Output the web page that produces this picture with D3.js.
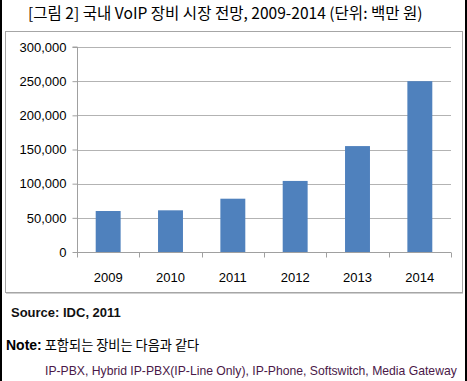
<!DOCTYPE html>
<html><head><meta charset="utf-8">
<script src="https://cdn.jsdelivr.net/npm/d3@7"></script>
<style>
html,body{margin:0;padding:0;background:#fff;}
svg{display:block;}
</style></head>
<body>
<script>
const years = ["2009","2010","2011","2012","2013","2014"];
const values = [60000, 61000, 78000, 104000, 155000, 250000];
const yTicks = [0, 50000, 100000, 150000, 200000, 250000, 300000];
const titleText = "[그림 2] 국내 VoIP 장비 시장 전망, 2009-2014 (단위: 백만 원)";
const sourceText = "Source: IDC, 2011";
const noteLabel = "Note:";
const noteText = " 포함되는 장비는 다음과 같다";
const itemsText = "IP-PBX,  Hybrid IP-PBX(IP-Line Only), IP-Phone, Softswitch,  Media Gateway";

const W = 467, H = 381;
const svg = d3.select("body").append("svg").attr("width", W).attr("height", H);

// outer side borders
svg.append("rect").attr("x",0).attr("y",0).attr("width",2).attr("height",H).attr("fill","#000");
svg.append("rect").attr("x",465).attr("y",0).attr("width",2).attr("height",H).attr("fill","#000");

// title
const title = svg.append("text").attr("x", 28).attr("y", 19)
  .attr("font-family", "'Noto Sans CJK KR', sans-serif")
  .attr("font-size", 16).attr("fill", "#000").text(titleText);
const tw = title.node().getComputedTextLength();
title.attr("font-size", 16 * 395 / tw);

// chart box
svg.append("rect").attr("x", 5.5).attr("y", 31.5).attr("width", 457).attr("height", 261)
  .attr("fill", "#fff").attr("stroke", "#a6a6a6").attr("stroke-width", 1);
svg.append("line").attr("x1", 6).attr("x2", 463).attr("y1", 293.5).attr("y2", 293.5)
  .attr("stroke", "#d0d0d0");

const x0 = 77, x1 = 451, yTop = 47, yBot = 252;
const x = d3.scaleBand().domain(years).range([x0, x1]).paddingInner(0.6).paddingOuter(0.3);
const xb = d3.scaleBand().domain(years).range([x0, x1]);
const y = d3.scaleLinear().domain([0, 300000]).range([yBot, yTop]);

// gridlines
svg.append("g").selectAll("line").data(yTicks.filter(d => d > 0)).join("line")
  .attr("x1", x0).attr("x2", x1)
  .attr("y1", d => Math.round(y(d)) + 0.5).attr("y2", d => Math.round(y(d)) + 0.5)
  .attr("stroke", "#b3b3b3").attr("stroke-width", 1);

// bars
svg.append("g").selectAll("rect").data(years).join("rect")
  .attr("x", d => x(d)).attr("width", x.bandwidth())
  .attr("y", (d, i) => y(values[i])).attr("height", (d, i) => yBot - y(values[i]))
  .attr("fill", "#4f81bd");

// y axis
const yAxis = d3.axisLeft(y).tickValues(yTicks).tickSize(5).tickPadding(6)
  .tickFormat(d3.format(","));
const gy = svg.append("g").attr("transform", `translate(${x0 + 0.5},0)`).call(yAxis);
gy.select(".domain").attr("stroke", "#a0a0a0").attr("d", `M-5,${yTop}H0V${yBot}`);
gy.selectAll(".tick line").attr("stroke", "#a0a0a0");
gy.selectAll(".tick text").attr("font-family", "'Liberation Sans', Arial, sans-serif")
  .attr("font-size", 13).attr("fill", "#000");

// x axis
const gx = svg.append("g").attr("transform", `translate(0,${yBot + 0.5})`);
gx.append("line").attr("x1", x0).attr("x2", x1).attr("stroke", "#a0a0a0");
gx.selectAll("line.tk").data(years.concat(["end"])).join("line").attr("class","tk")
  .attr("x1", (d, i) => Math.round(x0 + i * xb.bandwidth()) + 0.5)
  .attr("x2", (d, i) => Math.round(x0 + i * xb.bandwidth()) + 0.5)
  .attr("y1", 0).attr("y2", 5).attr("stroke", "#a0a0a0");
svg.append("g").selectAll("text").data(years).join("text")
  .attr("x", d => x(d) + x.bandwidth() / 2).attr("y", 282)
  .attr("text-anchor", "middle")
  .attr("font-family", "'Liberation Sans', Arial, sans-serif").attr("font-size", 13)
  .attr("fill", "#000").text(d => d);

// source
svg.append("text").attr("x", 11).attr("y", 317)
  .attr("font-family", "'Liberation Sans', Arial, sans-serif").attr("font-size", 13)
  .attr("font-weight", "bold").attr("fill", "#111").text(sourceText);

// note
const note = svg.append("text").attr("x", 6).attr("y", 350);
note.append("tspan").attr("font-family", "'Liberation Sans', Arial, sans-serif")
  .attr("font-size", 14).attr("font-weight", "bold").attr("fill", "#000").text(noteLabel);
note.append("tspan").attr("font-family", "'Noto Sans CJK KR', sans-serif")
  .attr("font-size", 13.2).attr("fill", "#000").text(noteText);

// items
svg.append("text").attr("x", 45).attr("y", 375)
  .attr("font-family", "'Liberation Sans', Arial, sans-serif").attr("font-size", 12.2)
  .attr("fill", "#4a1848").text(itemsText);
</script>
</body></html>
